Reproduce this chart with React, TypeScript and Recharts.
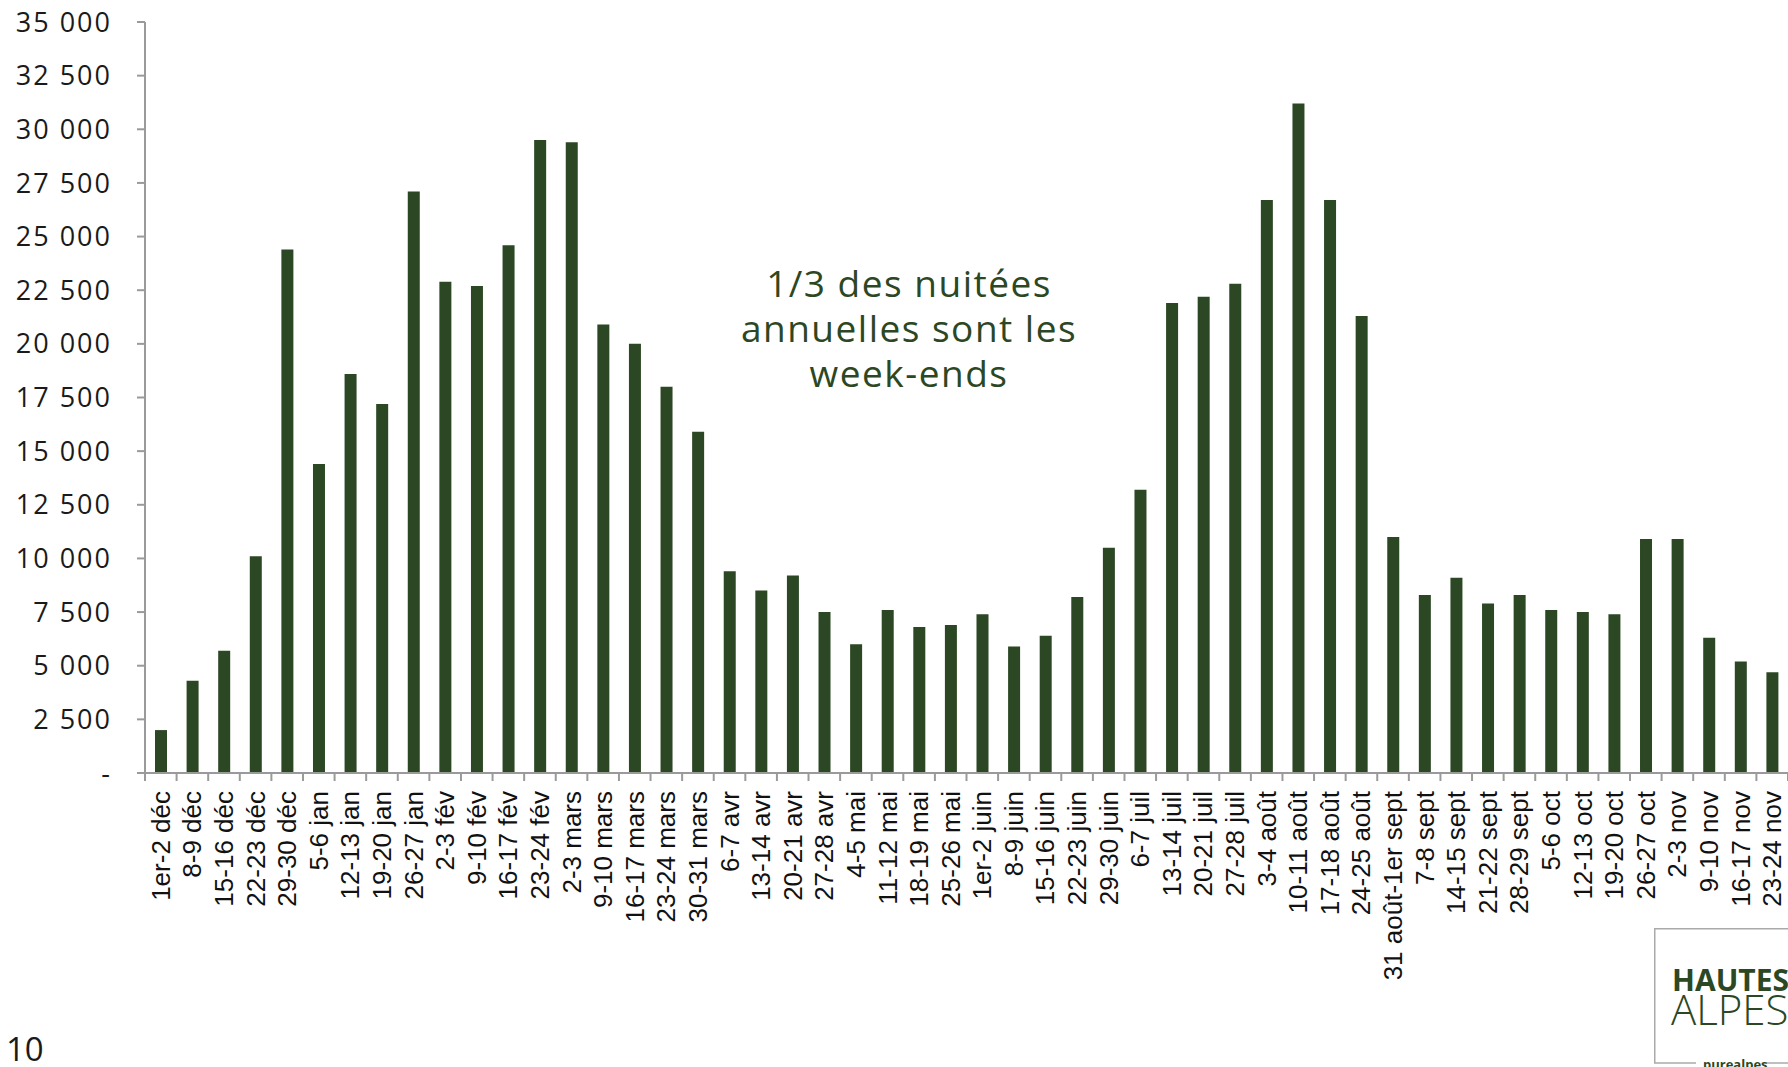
import React from 'react';
import { BarChart, Bar, XAxis, YAxis } from 'recharts';

const categories: string[] = [
  '1er-2 déc', '8-9 déc', '15-16 déc', '22-23 déc', '29-30 déc',
  '5-6 jan', '12-13 jan', '19-20 jan', '26-27 jan',
  '2-3 fév', '9-10 fév', '16-17 fév', '23-24 fév',
  '2-3 mars', '9-10 mars', '16-17 mars', '23-24 mars', '30-31 mars',
  '6-7 avr', '13-14 avr', '20-21 avr', '27-28 avr',
  '4-5 mai', '11-12 mai', '18-19 mai', '25-26 mai',
  '1er-2 juin', '8-9 juin', '15-16 juin', '22-23 juin', '29-30 juin',
  '6-7 juil', '13-14 juil', '20-21 juil', '27-28 juil',
  '3-4 août', '10-11 août', '17-18 août', '24-25 août',
  '31 août-1er sept', '7-8 sept', '14-15 sept', '21-22 sept', '28-29 sept',
  '5-6 oct', '12-13 oct', '19-20 oct', '26-27 oct',
  '2-3 nov', '9-10 nov', '16-17 nov', '23-24 nov',
];

const nuitees: number[] = [
  2000, 4300, 5700, 10100, 24400,
  14400, 18600, 17200, 27100,
  22900, 22700, 24600, 29500,
  29400, 20900, 20000, 18000, 15900,
  9400, 8500, 9200, 7500,
  6000, 7600, 6800, 6900,
  7400, 5900, 6400, 8200, 10500,
  13200, 21900, 22200, 22800,
  26700, 31200, 26700, 21300,
  11000, 8300, 9100, 7900, 8300,
  7600, 7500, 7400, 10900,
  10900, 6300, 5200, 4700,
];

const yTicks: number[] = [0, 2500, 5000, 7500, 10000, 12500, 15000, 17500, 20000, 22500, 25000, 27500, 30000, 32500, 35000];

const annotationLines: string[] = ['1/3 des nuitées', 'annuelles sont les', 'week-ends'];
const pageNumber = '10';

const data = categories.map((c, i) => ({ cat: c, v: nuitees[i] }));

const GREEN = '#2c4723';
const AXIS = '#9a9a9a';

const fmt = (v: number) => (v === 0 ? '-' : String(v).replace(/\B(?=(\d{3})+(?!\d))/g, ' '));

const XTick = (props: any) => {
  const { x, y, payload, index, visibleTicksCount } = props;
  const half = payload && payload.offset ? payload.offset : 15.8;
  const last = index === (visibleTicksCount ?? categories.length) - 1;
  return (
    <g>
      <line x1={x - half} x2={x - half} y1={y} y2={y + 8} stroke={AXIS} strokeWidth={2} />
      {last && <line x1={x + half} x2={x + half} y1={y} y2={y + 8} stroke={AXIS} strokeWidth={2} />}
      <text
        x={x}
        y={y + 18}
        transform={`rotate(-90 ${x} ${y + 18})`}
        textAnchor="end"
        dominantBaseline="central"
        fontFamily="'Liberation Sans', Arial, sans-serif"
        fontSize={26}
        fill="#111"
      >
        {payload.value}
      </text>
    </g>
  );
};

export default function App() {
  return (
    <div style={{ position: 'absolute', left: 0, top: 0, width: 1788, height: 1067, overflow: 'hidden', background: '#fff' }}>
      <BarChart
        width={1788}
        height={1067}
        data={data}
        margin={{ top: 22, right: 0, left: 0, bottom: 0 }}
      >
        <XAxis
          dataKey="cat"
          interval={0}
          height={294}
          tickSize={0}
          tickMargin={0}
          tickLine={false}
          axisLine={{ stroke: AXIS, strokeWidth: 2 }}
          tick={<XTick />}
        />
        <YAxis
          width={145}
          domain={[0, 35000]}
          ticks={yTicks}
          interval={0}
          tickFormatter={fmt}
          tickSize={8}
          tickMargin={25}
          tickLine={{ stroke: AXIS, strokeWidth: 2 }}
          axisLine={{ stroke: AXIS, strokeWidth: 2 }}
          tick={{ fontSize: 27, fill: '#1a1a1a', fontFamily: "'Open Sans', sans-serif", letterSpacing: 2 }}
        />
        <Bar dataKey="v" fill={GREEN} barSize={12} isAnimationActive={false} />
      </BarChart>
      <svg width={1788} height={1067} style={{ position: 'absolute', left: 0, top: 0, pointerEvents: 'none' }}>
        {annotationLines.map((t, i) => (
          <text
            key={t}
            x={909}
            y={297 + i * 45}
            textAnchor="middle"
            fontFamily="'Open Sans', sans-serif"
            fontWeight={500}
            fontSize={37}
            letterSpacing={1.5}
            fill={GREEN}
          >
            {t}
          </text>
        ))}
        <text x={6} y={1061} fontFamily="'Open Sans', sans-serif" fontSize={33} fill="#1a1a1a">
          {pageNumber}
        </text>
        <g transform="translate(1654 928)">
          <line x1={0.75} y1={0} x2={0.75} y2={135} stroke="#aaa" strokeWidth={1.5} />
          <line x1={0} y1={0.75} x2={140} y2={0.75} stroke="#aaa" strokeWidth={1.5} />
          <line x1={0} y1={135} x2={42} y2={135} stroke="#aaa" strokeWidth={1.5} />
          <line x1={112} y1={135} x2={140} y2={135} stroke="#aaa" strokeWidth={1.5} />
          <text x={18} y={63} fontFamily="'Open Sans', sans-serif" fontWeight={700} fontSize={30} fill={GREEN}>
            HAUTES
          </text>
          <text x={17} y={97} fontFamily="'Open Sans', sans-serif" fontWeight={300} fontSize={42} fill={GREEN}>
            ALPES
          </text>
          <text x={49} y={141} fontFamily="'Open Sans', sans-serif" fontWeight={700} fontSize={13} fill={GREEN}>
            purealpes
          </text>
        </g>
      </svg>
    </div>
  );
}
